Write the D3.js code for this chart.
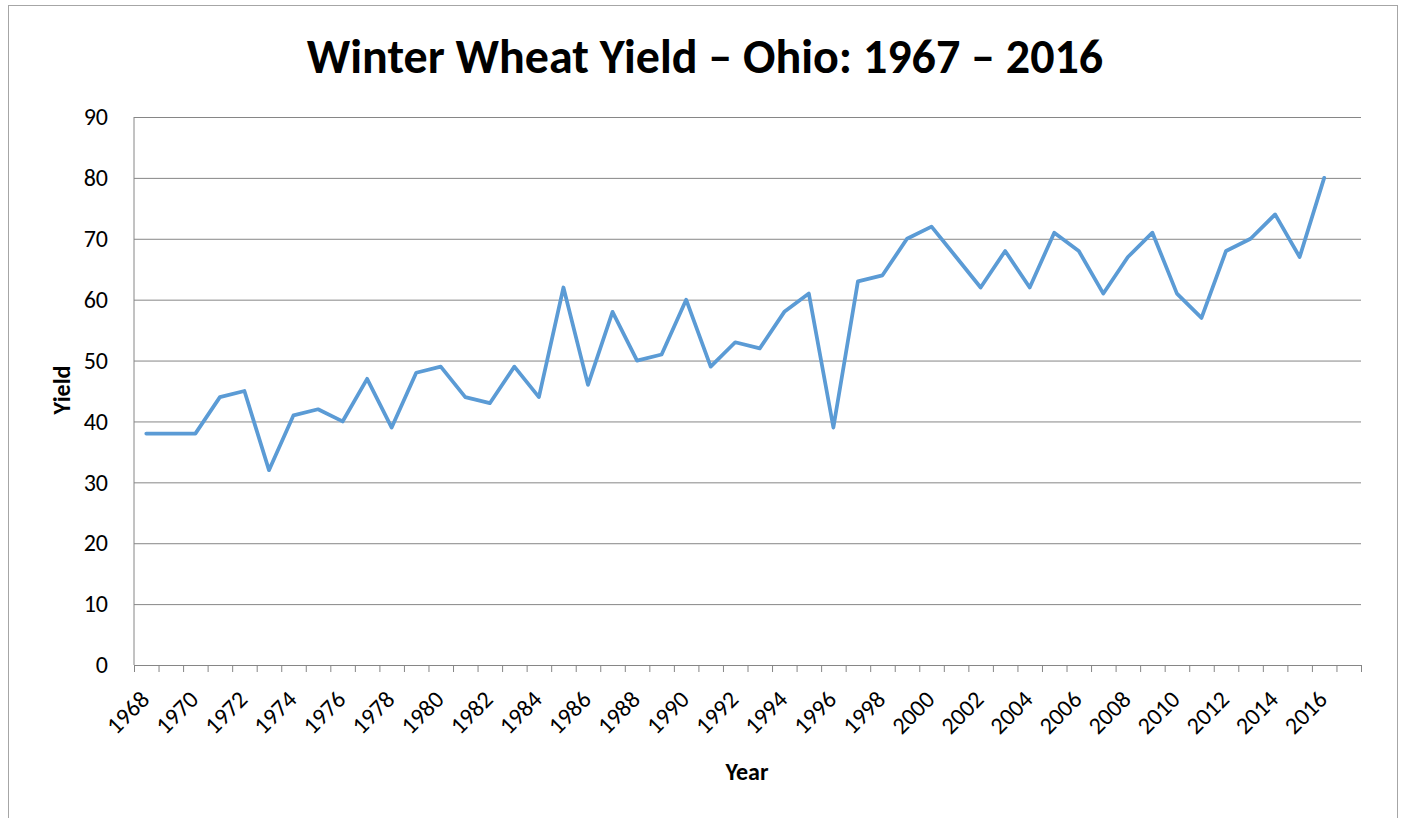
<!DOCTYPE html>
<html>
<head>
<meta charset="utf-8">
<script src="https://cdn.jsdelivr.net/npm/d3@7"></script>
<style>
  body { margin: 0; background: #fff; }
  svg { display: block; }
  text { font-family: Carlito, Calibri, Lato, "Open Sans", sans-serif; fill: #000; }
</style>
</head>
<body>
<svg id="chart" width="1406" height="818"></svg>
<script>
// Category axis runs 1968..2017, the last slot has no value
const years = d3.range(1968, 2018);
const yields = [
  38, 38, 38, 44, 45, 32, 41, 42, 40, 47,   // 1968-1977
  39, 48, 49, 44, 43, 49, 44, 62, 46, 58,   // 1978-1987
  50, 51, 60, 49, 53, 52, 58, 61, 39, 63,   // 1988-1997
  64, 70, 72, 67, 62, 68, 62, 71, 68, 61,   // 1998-2007
  67, 71, 61, 57, 68, 70, 74, 67, 80        // 2008-2016
];
const yTicks = [0, 10, 20, 30, 40, 50, 60, 70, 80, 90];
const labelYears = years.filter((d, i) => i % 2 === 0 && d <= 2016);

const chartTitle = 'Winter Wheat Yield \u2013 Ohio: 1967 \u2013 2016';
const xTitle = 'Year';
const yTitle = 'Yield';

const data = yields.map((v, i) => ({ year: years[i], value: v }));

const svg = d3.select('#chart');
const margin = { top: 117, right: 45, bottom: 153, left: 134 };
const width = 1406 - margin.left - margin.right;
const height = 818 - margin.top - margin.bottom;

// chart frame
svg.append('rect')
  .attr('x', 8.5).attr('y', 5.5)
  .attr('width', 1389).attr('height', 830)
  .attr('fill', 'none')
  .attr('stroke', '#a6a6a6')
  .attr('stroke-width', 1);

svg.append('text')
  .attr('x', 705).attr('y', 73)
  .attr('text-anchor', 'middle')
  .attr('font-size', 48)
  .attr('font-weight', 'bold')
  .text(chartTitle);

const g = svg.append('g')
  .attr('transform', `translate(${margin.left},${margin.top})`);

const x = d3.scaleBand().domain(years).range([0, width]).paddingInner(0).paddingOuter(0);
const xEdge = d3.scaleLinear().domain([0, years.length]).range([0, width]);
const y = d3.scaleLinear().domain([0, 90]).range([height, 0]);

// gridlines + y labels
const yAxis = g.append('g')
  .call(d3.axisLeft(y).tickValues(yTicks).tickSize(-width).tickPadding(26));
yAxis.select('.domain').remove();
yAxis.selectAll('.tick line').attr('stroke', '#868686').attr('stroke-width', 1);
yAxis.selectAll('.tick text')
  .attr('font-size', 24)
  .attr('font-family', 'Carlito, Calibri, Lato, "Open Sans", sans-serif')
  .attr('fill', '#000');

// left axis line
g.append('line')
  .attr('x1', 0).attr('x2', 0)
  .attr('y1', 0).attr('y2', height)
  .attr('stroke', '#868686');

// bottom axis with tick marks at category edges
const xAxis = g.append('g')
  .attr('transform', `translate(0,${height})`)
  .call(d3.axisBottom(xEdge).tickValues(d3.range(0, years.length + 1)).tickSize(7).tickSizeOuter(0).tickFormat(''));
xAxis.select('.domain').attr('stroke', '#868686');
xAxis.selectAll('.tick line').attr('stroke', '#868686');

// rotated year labels
g.append('g')
  .selectAll('text')
  .data(labelYears)
  .join('text')
  .attr('text-anchor', 'end')
  .attr('font-size', 24)
  .attr('transform', d => `translate(${x(d) + x.bandwidth() / 2 + 4.5},${height + 36}) rotate(-45)`)
  .text(d => d);

// series
const line = d3.line()
  .x(d => x(d.year) + x.bandwidth() / 2)
  .y(d => y(d.value));

g.append('path')
  .datum(data)
  .attr('fill', 'none')
  .attr('stroke', '#5b9bd5')
  .attr('stroke-width', 3.75)
  .attr('stroke-linejoin', 'round')
  .attr('stroke-linecap', 'round')
  .attr('d', line);

// axis titles
svg.append('text')
  .attr('x', 747).attr('y', 780)
  .attr('text-anchor', 'middle')
  .attr('font-size', 24)
  .attr('font-weight', 'bold')
  .text(xTitle);

svg.append('text')
  .attr('transform', 'translate(70,390) rotate(-90)')
  .attr('text-anchor', 'middle')
  .attr('font-size', 24)
  .attr('font-weight', 'bold')
  .text(yTitle);
</script>
</body>
</html>
